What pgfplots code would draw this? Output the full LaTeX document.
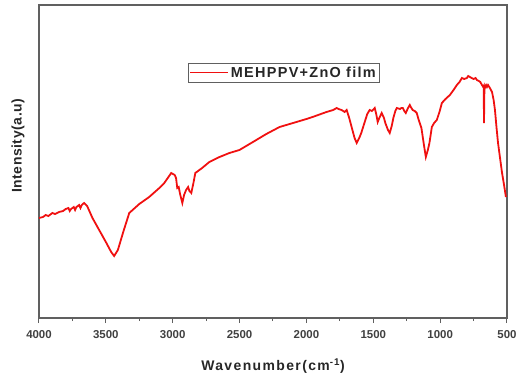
\documentclass[border=0pt]{standalone}
\usepackage{pgfplots}
\pgfplotsset{compat=1.18}
\usepackage{fontspec}
\setmainfont{Liberation Sans}
\newfontfamily\xlfont[LetterSpace=10]{Liberation Sans}
\newfontfamily\lgfont[LetterSpace=9]{Liberation Sans}
\newfontfamily\ylfont[LetterSpace=4]{Liberation Sans}
\definecolor{axgray}{HTML}{606060}
\definecolor{curvered}{HTML}{F01010}
\begin{document}
\begin{tikzpicture}
\path (-39bp,-61bp) rectangle (481bp,318bp);
\begin{axis}[
  at={(0,0)}, anchor=south west,
  scale only axis, width=468bp, height=313bp,
  x dir=reverse, xmin=500, xmax=4000, ymin=0, ymax=313,
  xtick={500,1000,...,4000}, minor x tick num=1,
  ytick=\empty,
  tick align=outside, xtick pos=bottom,
  major tick length=5bp, minor tick length=3bp,
  axis line style={axgray, line width=1.3pt},
  every tick/.style={axgray, line width=1pt},
  /pgf/number format/assume math mode=true,
  /pgf/number format/set thousands separator={},
  xticklabel style={font=\fontsize{11.5}{12}\selectfont\bfseries, text=black!75, yshift=-4bp},
  xlabel={Wavenumber(cm\textsuperscript{-1})},
  xlabel style={font=\xlfont\fontsize{14}{16}\selectfont\bfseries, text=black!85, at={(axis description cs:0.5,-0.153)}, anchor=center},
  ylabel={Intensity(a.u)},
  ylabel style={font=\ylfont\fontsize{14}{16}\selectfont\bfseries, text=black!85, at={(axis description cs:-0.045,0.55)}, anchor=center},
  legend style={at={(0.318,0.815)}, anchor=north west, draw=axgray, line width=0.6pt,
    font=\lgfont\fontsize{14.5}{16}\selectfont\bfseries, text=black!85, inner sep=1.5pt, row sep=0pt,
    /tikz/every even column/.append style={column sep=3pt}},
  legend image code/.code={\draw[#1, line width=1.3pt] (0bp,0bp) -- (38bp,0bp);},
  legend cell align=left,
]
\addplot[curvered, line width=1.8pt] coordinates {
(4000,100) (3970,101) (3950,103) (3930,102) (3900,105) (3880,104) (3850,106)
(3820,107) (3800,109) (3780,110) (3770,107) (3760,109) (3740,111) (3730,108)
(3720,111) (3700,113) (3690,110) (3680,113) (3663,115) (3640,112)
(3600,100) (3550,88) (3500,76) (3460,66) (3438,62) (3410,68) (3370,86)
(3325,105) (3250,114) (3176,121) (3100,130) (3063,135) (3011,145)
(2985,143) (2975,140) (2966,130) (2955,131) (2945,124) (2928,115) (2915,123)
(2900,128) (2885,131) (2875,127) (2861,125) (2845,135) (2831,145)
(2780,150) (2726,156) (2650,161) (2576,165) (2501,168) (2400,176)
(2300,184) (2201,191) (2100,195) (2000,199) (1954,201) (1850,206)
(1800,208) (1774,210) (1760,209) (1737,208) (1714,206) (1699,208) (1680,200)
(1660,190) (1640,180) (1624,175) (1605,180) (1590,185) (1564,196) (1545,204)
(1527,208) (1510,207) (1489,210) (1478,204) (1467,196) (1455,200) (1437,205)
(1420,200) (1410,195) (1390,188) (1377,185) (1362,192) (1350,200) (1335,207)
(1324,210) (1300,209) (1290,210) (1279,210) (1268,207) (1257,205) (1240,210)
(1227,213) (1215,210) (1205,208) (1190,207) (1175,205) (1160,198) (1140,190)
(1120,172) (1107,161) (1092,168) (1080,175) (1062,191) (1045,195) (1025,198)
(1005,206) (987,215) (960,219) (927,223) (900,228) (875,233) (855,236)
(837,240) (820,239) (800,240) (790,242) (777,241) (765,240) (750,239)
(735,240) (725,238) (710,237) (700,236) (687,233) (678,231) (674,232)
(672,195) (669,228) (662,232) (657,233) (650,231) (642,233) (628,230)
(612,226) (600,218) (590,208) (578,190) (567,175) (552,160) (537,145)
(522,133) (508,121)
};
\addlegendentry{MEHPPV+ZnO film}
\end{axis}
\end{tikzpicture}
\end{document}
